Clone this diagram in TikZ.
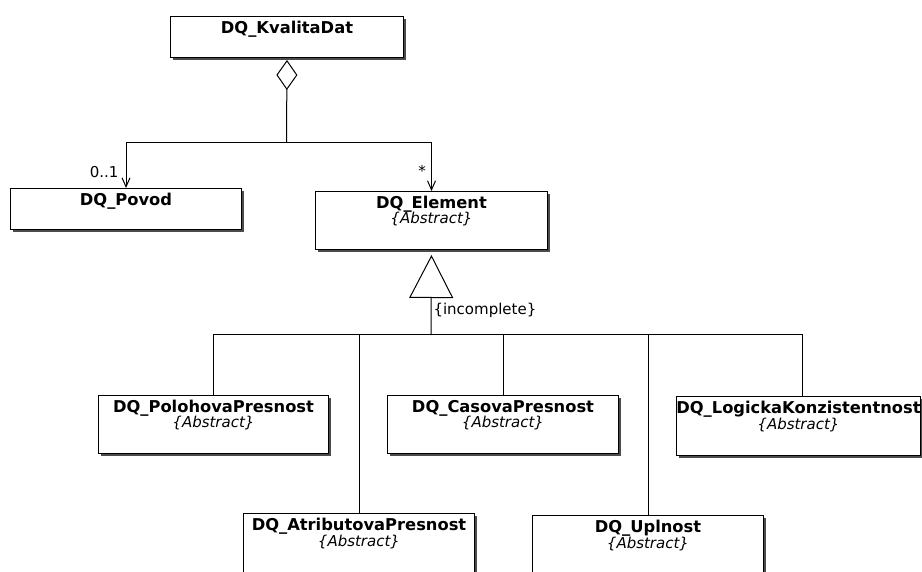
\documentclass[tikz,border=0pt]{standalone}
\usepackage{fontspec}
\setmainfont{DejaVu Sans}
\usetikzlibrary{arrows.meta,shadows}

\tikzset{
  cls/.style={draw, fill=white, anchor=north west, inner sep=0pt,
    drop shadow={shadow xshift=2.5pt, shadow yshift=-2.5pt, fill=black!70, opacity=1}},
  ttl/.style={anchor=base, inner sep=0pt, yshift=-17.5pt, font=\fontsize{16.3}{19}\selectfont\bfseries},
  abst/.style={anchor=base, inner sep=0pt, yshift=-33pt, font=\fontsize{15}{17}\selectfont\itshape},
  mult/.style={inner sep=0pt, font=\fontsize{15}{17}\selectfont},
  assoc/.style={-{Straight Barb[length=9pt, width=8pt]}},
}

\begin{document}
\begin{tikzpicture}[x=1pt, y=-1pt, line width=1pt]
  \useasboundingbox (0,0) rectangle (922,572);

  % classes
  \node[cls, minimum width=233pt, minimum height=41pt] (kvalita) at (170,16) {};
  \node[ttl] (kvalitaT) at (kvalita.north) {DQ\_KvalitaDat};

  \node[cls, minimum width=231pt, minimum height=41pt] (povod) at (10,188) {};
  \node[ttl] (povodT) at (povod.north) {DQ\_Povod};

  \node[cls, minimum width=232pt, minimum height=58pt] (element) at (315,191) {};
  \node[ttl] (elementT) at (element.north) {DQ\_Element};
  \node[abst] (elementA) at (element.north) {\{Abstract\}};

  \node[cls, minimum width=230pt, minimum height=58pt] (poloha) at (98,395) {};
  \node[ttl] (polohaT) at (poloha.north) {DQ\_PolohovaPresnost};
  \node[abst] (polohaA) at (poloha.north) {\{Abstract\}};

  \node[cls, minimum width=231pt, minimum height=58pt] (casova) at (387,395) {};
  \node[ttl] (casovaT) at (casova.north) {DQ\_CasovaPresnost};
  \node[abst] (casovaA) at (casova.north) {\{Abstract\}};

  \node[cls, minimum width=244pt, minimum height=59pt] (logicka) at (676,396) {};
  \node[ttl] (logickaT) at (logicka.north) {DQ\_LogickaKonzistentnost};
  \node[abst] (logickaA) at (logicka.north) {\{Abstract\}};

  \node[cls, minimum width=231pt, minimum height=64pt] (atribut) at (243,513) {};
  \node[ttl] (atributT) at (atribut.north) {DQ\_AtributovaPresnost};
  \node[abst] (atributA) at (atribut.north) {\{Abstract\}};

  \node[cls, minimum width=231pt, minimum height=64pt] (uplnost) at (532,515) {};
  \node[ttl] (uplnostT) at (uplnost.north) {DQ\_Uplnost};
  \node[abst] (uplnostA) at (uplnost.north) {\{Abstract\}};

  % aggregation
  \coordinate (agg) at (286.5,143);
  \draw[{Diamond[open, length=30pt, width=21pt]}-, shorten <=2pt] (kvalita.south) -- (agg);
  \draw[assoc] (agg) -| (povod.north);
  \draw[assoc] (agg) -| (element.north);
  \node[mult, anchor=east] (multPovod) at (119,172) {0..1};
  \node[mult] (multElement) at (422,171) {*};

  % generalization
  \coordinate (gen) at (431,335);
  \draw[{Triangle[open, length=43pt, width=44pt]}-, shorten <=5pt] (element.south) -- (gen);
  \draw (gen) -| (poloha.north);
  \draw (gen) -| (atribut.north);
  \draw (gen) -| (casova.north);
  \draw (gen) -| (uplnost.north);
  \draw (gen) -| ([xshift=4pt]logicka.north);
  \node[mult, anchor=west] (incomplete) at (433,310) {\{incomplete\}};
\end{tikzpicture}
\end{document}
